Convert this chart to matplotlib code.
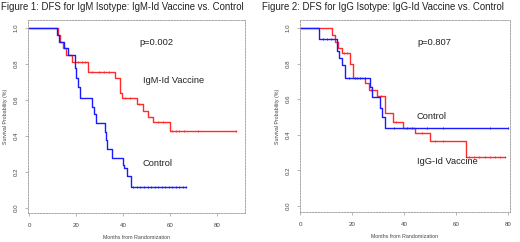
import numpy as np
import matplotlib
matplotlib.use("Agg")
import matplotlib.pyplot as plt

plt.rcParams["font.family"] = ["Liberation Sans", "DejaVu Sans"]

# Figure 1: IgM isotype  (event times in months, survival after each step)
igm_ctrl_t = [0, 11.9, 12.8, 14.9, 16.6, 19.6, 20.2, 21.0, 21.7, 26.8, 27.5, 28.5, 32.3, 32.8, 33.2, 35.3, 40.0, 40.5, 41.7, 43.4, 67.0]
igm_ctrl_s = [1.0, 0.96, 0.92, 0.89, 0.85, 0.78, 0.72, 0.67, 0.61, 0.56, 0.52, 0.47, 0.42, 0.375, 0.33, 0.28, 0.24, 0.22, 0.18, 0.117, 0.117]
igm_ctrl_cens = [44.5, 46, 47.5, 49, 50.5, 52, 53.5, 55, 56.5, 58, 59.5, 61, 62.5, 64, 65.5, 67]

igm_vac_t = [0, 12.3, 13.2, 14.5, 15.7, 18.3, 25.1, 36.6, 38.7, 39.6, 45.9, 48.5, 50.6, 52.8, 60.0, 88.0]
igm_vac_s = [1.0, 0.96, 0.92, 0.89, 0.85, 0.81, 0.755, 0.72, 0.64, 0.61, 0.58, 0.54, 0.505, 0.475, 0.43, 0.43]
igm_vac_cens = [19.5, 21, 22.5, 24, 27, 30, 32, 34, 41, 43, 47, 55, 57, 61, 62.5, 64, 66, 72, 88]

# Figure 2: IgG isotype
igg_ctrl_t = [0, 7.3, 14.2, 15.0, 16.0, 17.3, 26.9, 27.7, 30.8, 31.5, 32.7, 80.0]
igg_ctrl_s = [1.0, 0.94, 0.87, 0.83, 0.79, 0.72, 0.67, 0.61, 0.55, 0.50, 0.44, 0.44]
igg_ctrl_cens = [9, 10.5, 12, 19, 21, 23, 25, 36, 41, 43, 49, 55, 73, 80]

igg_vac_t = [0, 12.3, 13.5, 14.6, 16.0, 19.2, 20.4, 25.0, 26.5, 29.6, 32.7, 35.8, 39.6, 44.2, 50.0, 63.8, 79.0]
igg_vac_s = [1.0, 0.96, 0.92, 0.89, 0.86, 0.80, 0.72, 0.69, 0.65, 0.62, 0.52, 0.47, 0.44, 0.41, 0.365, 0.275, 0.275]
igg_vac_cens = [17, 18, 22, 27.5, 31, 37, 47, 52, 55, 65, 67, 69, 71, 73, 75, 77, 79]

x_ticks_1 = [0, 20, 40, 60, 80]
x_ticks_2 = [0, 20, 40, 60, 80]
y_ticks = [0.0, 0.2, 0.4, 0.6, 0.8, 1.0]

BLUE = "#1a1aff"
RED = "#ff2a2a"
GREY = "#9a9a9a"
TXT = "#222222"


def km(ax, t, s, cens, color):
    ax.step(t, s, where="post", color=color, linewidth=1.0)
    # step value at censor times
    cs = [s[max(i for i in range(len(t)) if t[i] <= c)] for c in cens]
    ax.plot(cens, cs, linestyle="none", marker="|", markersize=2.0,
            markeredgewidth=0.6, color=color)


def style(ax, xlim, ylim, xticks):
    ax.set_xlim(*xlim)
    ax.set_ylim(*ylim)
    for side in ["top", "right", "left", "bottom"]:
        ax.spines[side].set_color(GREY)
        ax.spines[side].set_linestyle((0, (2, 1.5)))
        ax.spines[side].set_linewidth(0.6)
    ax.set_xticks(xticks)
    ax.set_yticks(y_ticks)
    ax.set_xticklabels([str(v) for v in xticks])
    ax.set_yticklabels(["%.1f" % v for v in y_ticks], rotation=90, va="center")
    ax.tick_params(axis="both", labelsize=4.4, length=2, width=0.5,
                   colors=GREY, labelcolor="#444444", pad=5)
    ax.set_xlabel("Months from Randomization", fontsize=3.8, color="#444444", labelpad=5)
    ax.set_ylabel("Survival Probability (%)", fontsize=3.8, color="#444444", labelpad=4)


fig = plt.figure(figsize=(5.2, 2.42), dpi=100)

ax1 = fig.add_axes([28 / 520, 1 - 213 / 242, 217 / 520, 193 / 242])
km(ax1, igm_vac_t, igm_vac_s, igm_vac_cens, RED)
km(ax1, igm_ctrl_t, igm_ctrl_s, igm_ctrl_cens, BLUE)
style(ax1, (-0.4, 92), (-0.028, 1.044), x_ticks_1)
ax1.text(47, 0.92, "p=0.002", fontsize=6.7, color=TXT, va="center")
ax1.text(48.5, 0.71, "IgM-Id Vaccine", fontsize=6.7, color=TXT, va="center")
ax1.text(48.5, 0.245, "Control", fontsize=6.7, color=TXT, va="center")
fig.text(1 / 520, 1 - 7 / 242, "Figure 1: DFS for IgM Isotype: IgM-Id Vaccine vs. Control",
         fontsize=6.9, color=TXT, va="center", ha="left")

ax2 = fig.add_axes([300 / 520, 1 - 212 / 242, 210 / 520, 192 / 242])
km(ax2, igg_vac_t, igg_vac_s, igg_vac_cens, RED)
km(ax2, igg_ctrl_t, igg_ctrl_s, igg_ctrl_cens, BLUE)
style(ax2, (0, 80.8), (-0.034, 1.045), x_ticks_2)
ax2.text(45, 0.92, "p=0.807", fontsize=6.7, color=TXT, va="center")
ax2.text(45, 0.50, "Control", fontsize=6.7, color=TXT, va="center")
ax2.text(45, 0.247, "IgG-Id Vaccine", fontsize=6.7, color=TXT, va="center")
fig.text(262 / 520, 1 - 7 / 242, "Figure 2: DFS for IgG Isotype: IgG-Id Vaccine vs. Control",
         fontsize=6.9, color=TXT, va="center", ha="left")

fig.savefig("out.png", dpi=100)
